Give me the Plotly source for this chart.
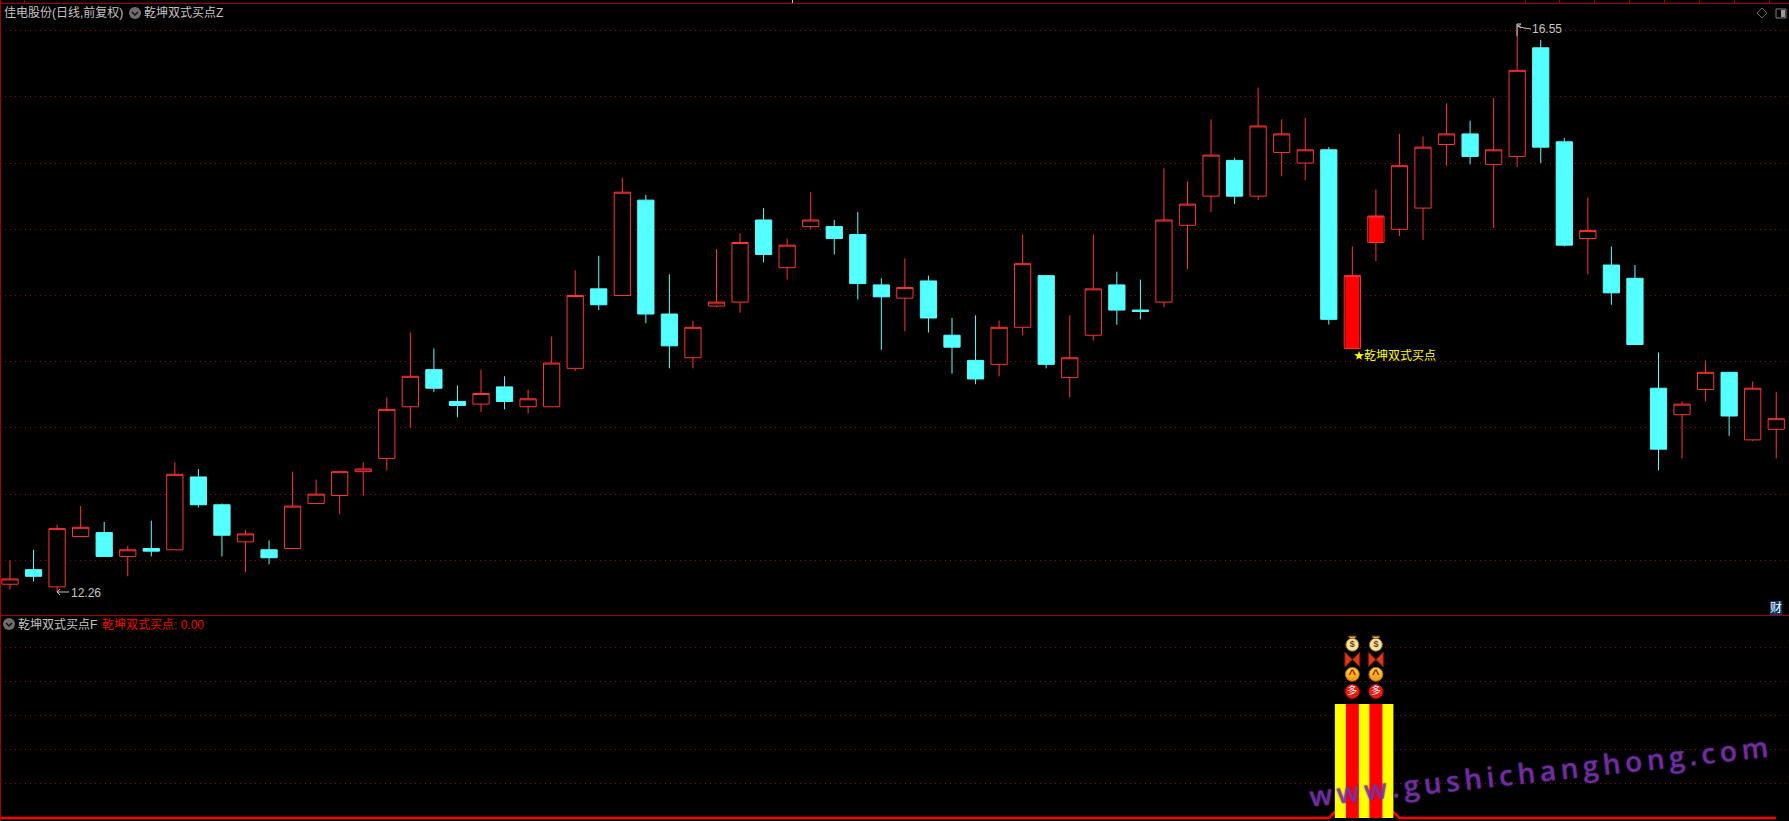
import plotly.graph_objects as go

title_main = "佳电股份(日线,前复权)"
title_ind_z = "乾坤双式买点Z"
title_ind_f = "乾坤双式买点F"
ind_value_label = "乾坤双式买点: 0.00"
signal_label = "乾坤双式买点"
low_label = "12.26"
high_label = "16.55"
watermark = "www.gushichanghong.com"

# Daily candles, prices
opens = [12.32,12.43,12.30,12.68,12.71,12.53,12.59,12.58,13.13,12.92,12.64,12.58,12.59,12.93,12.99,13.17,
         13.27,13.66,13.94,13.70,13.68,13.81,13.66,13.66,13.95,14.55,14.50,15.22,14.36,14.03,14.42,14.45,
         15.07,14.71,15.02,15.02,14.96,14.58,14.48,14.61,14.20,14.01,13.98,14.26,14.65,13.88,14.20,14.58,
         14.39,14.45,15.03,15.25,15.52,15.25,15.58,15.50,15.60,14.10,14.90,15.00,15.16,15.64,15.72,15.49,
         15.55,16.37,15.66,14.93,14.73,14.63,13.80,13.60,13.79,13.92,13.41,13.49]
highs = [12.50,12.58,12.77,12.91,12.79,12.61,12.80,13.24,13.19,12.93,12.73,12.65,13.17,13.11,13.17,13.24,
         13.73,14.22,14.10,13.82,13.94,13.89,13.79,14.19,14.69,14.80,15.39,15.26,14.66,14.31,14.85,14.97,
         15.16,14.93,15.28,15.07,15.13,14.63,14.78,14.65,14.33,14.35,14.31,14.96,14.65,14.35,14.96,14.68,
         14.62,15.46,15.36,15.83,15.54,16.07,15.83,15.84,15.62,14.87,15.30,15.72,15.70,15.95,15.82,15.99,
         16.55,16.43,15.69,15.24,14.87,14.73,14.07,13.70,14.01,13.92,13.85,13.77]
lows = [12.28,12.34,12.26,12.68,12.53,12.38,12.53,12.58,12.90,12.53,12.41,12.47,12.59,12.93,12.85,12.99,
        13.18,13.50,13.77,13.58,13.62,13.64,13.61,13.66,13.93,14.39,14.50,14.29,13.95,13.95,14.41,14.37,
        14.75,14.62,15.00,14.81,14.47,14.09,14.23,14.22,13.91,13.83,13.89,14.20,13.95,13.73,14.16,14.28,
        14.32,14.41,14.70,15.13,15.19,15.22,15.40,15.37,14.28,14.10,14.76,14.95,14.92,15.48,15.49,15.01,
        15.47,15.50,14.87,14.66,14.43,14.13,13.18,13.27,13.70,13.44,13.40,13.27]
closes = [12.36,12.38,12.74,12.75,12.53,12.58,12.57,13.15,12.92,12.69,12.70,12.52,12.91,13.00,13.17,13.19,
          13.64,13.89,13.80,13.67,13.76,13.70,13.72,13.99,14.50,14.43,15.28,14.36,14.12,14.26,14.45,14.90,
          14.81,14.88,15.07,14.93,14.59,14.49,14.56,14.33,14.11,13.87,14.26,14.74,13.98,14.03,14.55,14.39,
          14.38,15.07,15.19,15.56,15.25,15.78,15.72,15.60,14.32,14.65,15.10,15.48,15.62,15.72,15.55,15.60,
          16.20,15.62,14.88,14.99,14.52,14.13,13.34,13.68,13.92,13.59,13.80,13.57]
signal_days = [57, 58]
grid_top = [12.5,13.0,13.5,14.0,14.5,15.0,15.5,16.0,16.5]
grid_bottom = [0.3,0.6,0.9,1.2,1.5]
column_height = [1.0, 1.0]
line_peak = [0.2, 0.2]
days = list(range(len(opens)))
icon_bag, icon_knot, icon_fly, icon_up, icon_duo = 1.52, 1.58, 1.39, 1.26, 1.11

W, H = 1789, 821
PX = lambda x: x / W
PY = lambda y: 1 - y / H
RED = "#ff3232"
CYAN = "#54ffff"
GRID = "#a00000"
FRAME = "#a80000"
GREY = "#c4c4c4"
CJK = "Liberation Sans, Noto Sans CJK SC"

fig = go.Figure()

# main candles: hollow red / solid cyan; signal days are solid red with an inner bar
normal = [i for i in days if i not in signal_days]
pick = lambda arr, idx: [arr[i] for i in idx]
fig.add_trace(go.Candlestick(
    x=normal, open=pick(opens, normal), high=pick(highs, normal), low=pick(lows, normal), close=pick(closes, normal),
    increasing=dict(line=dict(color=RED, width=1), fillcolor="#000000"),
    decreasing=dict(line=dict(color=CYAN, width=1), fillcolor=CYAN),
    whiskerwidth=0, xaxis="x", yaxis="y", showlegend=False, hoverinfo="skip"))
fig.add_trace(go.Bar(
    x=signal_days, base=pick(opens, signal_days),
    y=[closes[i] - opens[i] for i in signal_days],
    width=0.6, marker=dict(color="#ff0000", line=dict(width=0)),
    xaxis="x", yaxis="y", showlegend=False, hoverinfo="skip"))
fig.add_trace(go.Candlestick(
    x=signal_days, open=pick(opens, signal_days), high=pick(highs, signal_days), low=pick(lows, signal_days),
    close=pick(closes, signal_days),
    increasing=dict(line=dict(color=RED, width=1), fillcolor="rgba(0,0,0,0)"),
    whiskerwidth=0, xaxis="x", yaxis="y", showlegend=False, hoverinfo="skip"))

# lower panel: line behind the columns
line_x = [-1] + days
line_y = [0.0] + [line_peak[signal_days.index(i)] if i in signal_days else 0.0 for i in days]
fig.add_trace(go.Scatter(x=line_x, y=line_y, mode="lines", line=dict(color="#ff0000", width=2.5),
                         xaxis="x2", yaxis="y2", showlegend=False, hoverinfo="skip"))
fig.add_trace(go.Bar(x=signal_days, y=column_height, width=35 / 23.55, marker=dict(color="#ffff00", line=dict(width=0)),
                     xaxis="x2", yaxis="y3", showlegend=False, hoverinfo="skip"))
fig.add_trace(go.Bar(x=signal_days, y=column_height, width=13 / 23.55, marker=dict(color="#ff0000", line=dict(width=0)),
                     xaxis="x2", yaxis="y3", showlegend=False, hoverinfo="skip"))

def icon(y, symbol, size, color, edge="rgba(0,0,0,0)", text=None, tcolor="#000", tsize=9, gradient=None):
    marker = dict(symbol=symbol, size=size, color=color, line=dict(color=edge, width=1))
    if gradient:
        marker["gradient"] = gradient
    fig.add_trace(go.Scatter(
        x=signal_days, y=[y] * len(signal_days), mode="markers+text" if text else "markers",
        marker=marker, text=[text] * len(signal_days) if text else None, textposition="middle center",
        textfont=dict(color=tcolor, size=tsize, family=CJK),
        xaxis="x2", yaxis="y3", showlegend=False, hoverinfo="skip"))

icon(icon_knot, "triangle-down", 7, "#e8c050", "#7a4a10")
icon(icon_bag, "circle", 13, "#f4e49a", "#8a5a20", "<b>$</b>", "#7a3a20", 9)
icon(icon_fly, "bowtie", 15, "#d83a1c", "#801008")
icon(icon_up, "circle", 14, "#ffe040", "#a06000", "<b>^</b>", "#b01010", 13,
     dict(type="vertical", color="#f89010"))
icon(icon_duo, "circle", 14, "#ff2010", "#c00000", "多", "#ffffff", 10,
     dict(type="radial", color="#d00000"))

no_text = dict(showticklabels=False, ticks="", zeroline=False, showline=False)
fig.update_layout(
    width=W, height=H, margin=dict(l=0, r=0, t=0, b=0, pad=0),
    paper_bgcolor="#000000", plot_bgcolor="#000000", showlegend=False,
    barmode="overlay", boxgap=0.31, boxgroupgap=0, hovermode=False,
    xaxis=dict(domain=[0, 1], range=[-10 / 23.55, (W - 10) / 23.55], showgrid=False,
               rangeslider=dict(visible=False), **no_text),
    yaxis=dict(domain=[PY(615), PY(3)], range=[16.731 - 0.00755 * 615, 16.731 - 0.00755 * 3],
               tickmode="array", tickvals=grid_top, showgrid=True, gridcolor=GRID, griddash="1px,4px",
               gridwidth=1, **no_text),
    xaxis2=dict(domain=[0, 1], range=[-10 / 23.55, (W - 10) / 23.55], showgrid=False, anchor="y2", **no_text),
    yaxis2=dict(domain=[PY(821), PY(616)], range=[-3 / 114, 202 / 114], anchor="x2",
                tickmode="array", tickvals=grid_bottom, showgrid=True, gridcolor=GRID, griddash="1px,4px",
                gridwidth=1, **no_text),
    yaxis3=dict(overlaying="y2", range=[-3 / 114, 202 / 114], anchor="x2", showgrid=False, **no_text),
)

shapes = []
def seg(x0, y0, x1, y1, color=FRAME, width=1):
    shapes.append(dict(type="line", xref="paper", yref="paper", x0=PX(x0), y0=PY(y0), x1=PX(x1), y1=PY(y1),
                       line=dict(color=color, width=width)))
def poly(points, color=GREY, width=1, fill=None, close=False):
    d = "M" + "L".join(f"{PX(x):.5f},{PY(y):.5f}" for x, y in points) + ("Z" if close else "")
    shapes.append(dict(type="path", xref="paper", yref="paper", path=d, line=dict(color=color, width=width),
                       fillcolor=fill or "rgba(0,0,0,0)"))
def chevron_icon(cx, cy):
    shapes.append(dict(type="circle", xref="paper", yref="paper", x0=PX(cx - 6), x1=PX(cx + 6), y0=PY(cy + 6),
                       y1=PY(cy - 6), fillcolor="#6e6e6e", line=dict(width=0)))
    poly([(cx - 3, cy - 1), (cx, cy + 2), (cx + 3, cy - 1)], color="#111111", width=1.5)

seg(0, 3.5, W, 3.5)
seg(0.5, 0, 0.5, H)
seg(0, 615.5, W, 615.5)
for tx in [24, 1525, 1559, 1594, 1629, 1664, 1699, 1734, 1769]:
    seg(tx + 0.5, 0, tx + 0.5, 3)
seg(792.5, 0, 792.5, 3, color="#c8c8c8")
chevron_icon(135, 13)
chevron_icon(9, 624)
# arrows to the low and high labels
poly([(69, 592), (57, 592)])
poly([(60, 589), (57, 592), (60, 595)])
poly([(1531, 29), (1524, 28), (1517, 26)])
poly([(1517, 36), (1517, 24), (1521, 24)])
poly([(1521, 24), (1518, 26), (1521, 28)])
# corner buttons
poly([(1762, 8), (1767, 13), (1762, 18), (1757, 13)], color="#6a6a6a", close=True)
shapes.append(dict(type="rect", xref="paper", yref="paper", x0=PX(1776), x1=PX(1786), y0=PY(18), y1=PY(9),
                   line=dict(color="#808080", width=1), fillcolor="rgba(0,0,0,0)"))
shapes.append(dict(type="rect", xref="paper", yref="paper", x0=PX(1781), x1=PX(1785), y0=PY(17), y1=PY(10),
                   line=dict(width=0), fillcolor="#9a9a9a"))
fig.update_layout(shapes=shapes)

def label(x, y, text, color=GREY, size=12, anchor="left", **kw):
    return dict(xref="paper", yref="paper", x=PX(x), y=PY(y), text=text, showarrow=False, xanchor=anchor,
                yanchor="middle", font=dict(color=color, size=size, family=CJK), borderpad=0, borderwidth=0, **kw)

anns = [
    label(4, 13, title_main),
    label(144, 13, title_ind_z),
    label(18, 624, title_ind_f),
    label(102, 624, ind_value_label, color="#ff0000"),
    label(71, 593, low_label),
    label(1532, 29, high_label),
    label(1354, 355, "★", color="#ffff00", size=10),
    label(1364, 355, signal_label, color="#ffff00"),
    label(1775.5, 607.5, "财", color="#ffffff", size=12, anchor="center", bgcolor="#0a3a70"),
]
anns.append(dict(xref="paper", yref="paper", x=PX(1538), y=PY(771), text="\u2009".join(watermark), showarrow=False,
                 textangle=-6.2, xanchor="center", yanchor="middle",
                 font=dict(color="rgba(140,45,165,0.78)", size=28, weight=600, family="Open Sans", shadow="0 0 2px #3a3ab0")))
fig.update_layout(annotations=anns)

fig.write_html("out.html", config=dict(displayModeBar=False),
               post_script="document.body.style.margin='0';document.body.style.background='#000';")
